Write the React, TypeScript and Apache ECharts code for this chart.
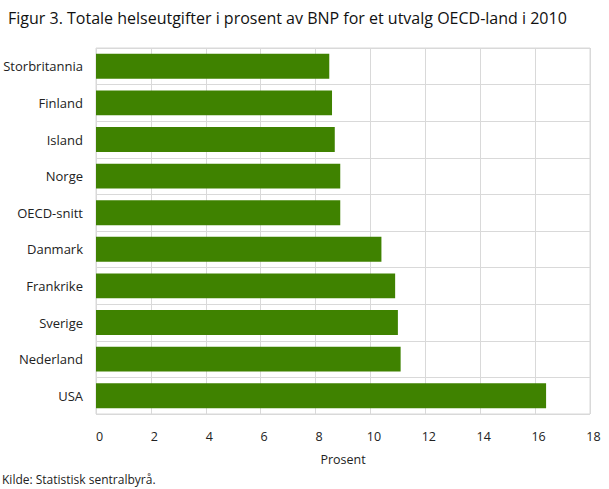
import React, { useEffect, useRef } from 'react';
import * as echarts from 'echarts';

// Land (top to bottom as shown)
const countries = [
  'Storbritannia',
  'Finland',
  'Island',
  'Norge',
  'OECD-snitt',
  'Danmark',
  'Frankrike',
  'Sverige',
  'Nederland',
  'USA',
];

// Totale helseutgifter i prosent av BNP, 2010
const percentOfGdp = [8.5, 8.6, 8.7, 8.9, 8.9, 10.4, 10.9, 11.0, 11.1, 16.4];

const FONT = '"Open Sans", "Noto Sans", sans-serif';

const App: React.FC = () => {
  const chartRef = useRef<HTMLDivElement>(null);

  useEffect(() => {
    document.body.style.margin = '0';
    if (!chartRef.current) return;

    const chart = echarts.init(chartRef.current, undefined, { renderer: 'svg' });

    const option = {
      animation: false,
      backgroundColor: '#fff',
      title: {
        text: 'Figur 3. Totale helseutgifter i prosent av BNP for et utvalg OECD-land i 2010',
        left: 3,
        top: 5,
        textStyle: { fontFamily: FONT, fontSize: 16, fontWeight: 'normal', color: '#111' },
      },
      grid: { left: 96, right: 19, top: 48, bottom: 75 },
      xAxis: {
        type: 'value',
        min: 0,
        max: 18,
        interval: 2,
        name: 'Prosent',
        nameLocation: 'middle',
        nameGap: 39,
        nameTextStyle: { fontFamily: FONT, fontSize: 12.5, color: '#222' },
        axisLine: { show: false },
        axisTick: { show: false },
        axisLabel: { fontFamily: FONT, fontSize: 12.5, color: '#222', margin: 16, padding: [0, 0, 0, 7] },
        splitLine: { show: true, lineStyle: { color: '#d9d9d9', width: 1 } },
      },
      yAxis: {
        type: 'category',
        data: countries,
        inverse: true,
        axisLine: { show: false },
        axisTick: { show: false },
        axisLabel: { fontFamily: FONT, fontSize: 13, color: '#222', margin: 13 },
        splitLine: { show: true, lineStyle: { color: '#d9d9d9', width: 1 } },
      },
      series: [
        {
          type: 'bar',
          data: percentOfGdp,
          barWidth: '68%',
          itemStyle: { color: '#3f8200' },
        },
      ],
      graphic: [
        {
          type: 'rect',
          shape: { x: 96, y: 48, width: 494, height: 366 },
          style: { fill: 'none', stroke: '#d9d9d9', lineWidth: 1 },
          silent: true,
          z: -1,
        },
        {
          type: 'text',
          left: 2,
          top: 473,
          style: { text: 'Kilde: Statistisk sentralbyrå.', fontFamily: FONT, fontSize: 12, fill: '#222' },
        },
      ],
    };

    chart.setOption(option);

    return () => {
      chart.dispose();
    };
  }, []);

  return <div ref={chartRef} style={{ width: '609px', height: '489px' }} />;
};

export default App;
